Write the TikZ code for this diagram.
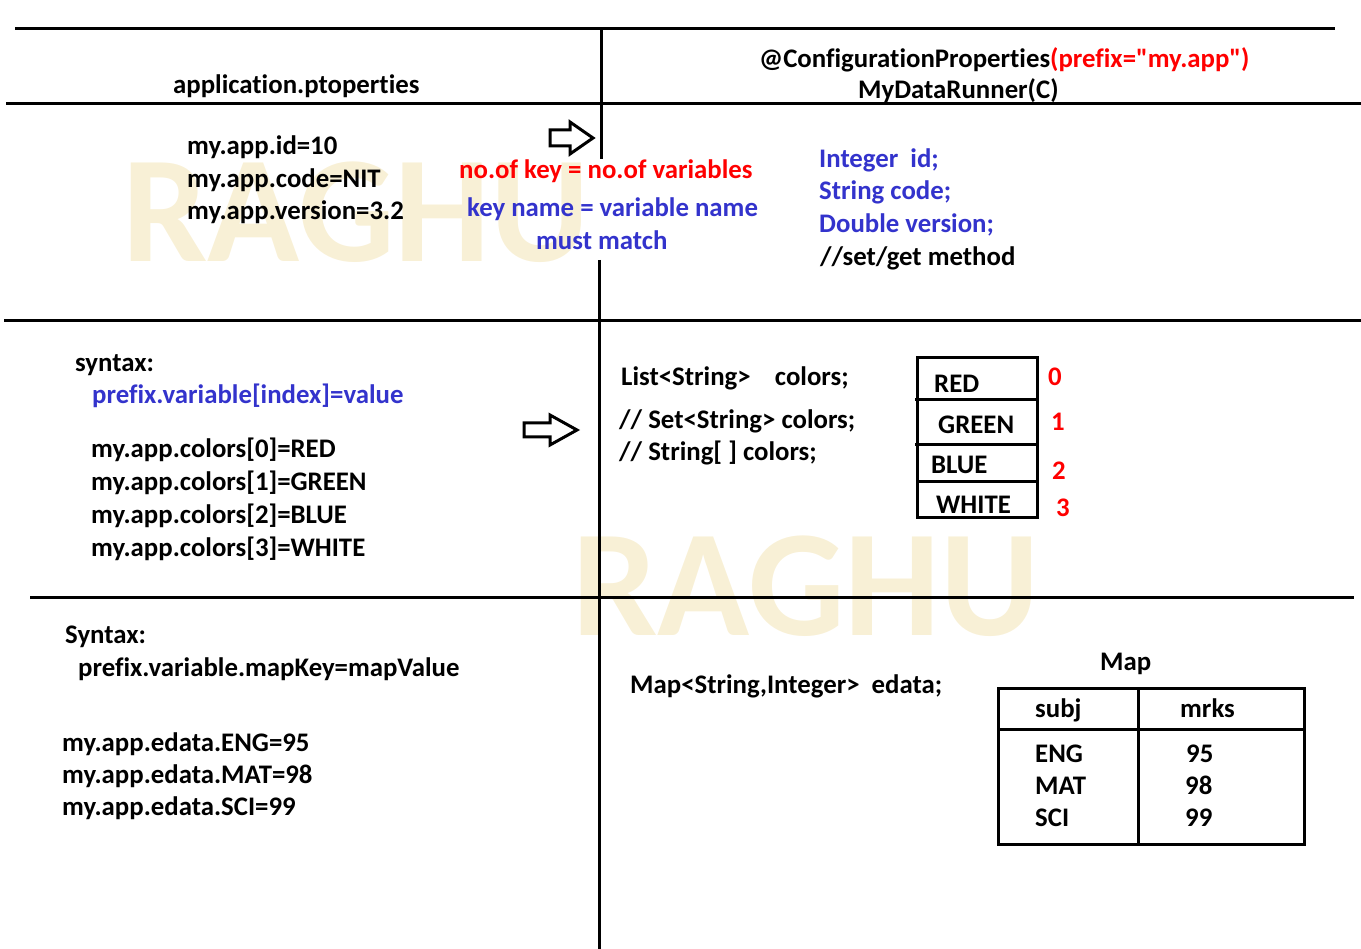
\documentclass[tikz,border=0pt]{standalone}
\usepackage{fontspec}
\setmainfont{Carlito}[Ligatures={TeXOff,NoCommon}]
\definecolor{wm}{RGB}{248,240,214}
\definecolor{tblue}{RGB}{51,51,204}
\definecolor{tred}{RGB}{255,0,0}
\tikzset{
  txt/.style={anchor=base west, inner sep=0pt, yshift=-2pt, font=\bfseries\fontsize{26.8}{32}\selectfont},
  bluetxt/.style={txt, text=tblue},
  redtxt/.style={txt, text=tred},
  wmark/.style={anchor=base west, inner sep=0pt, text=wm, font=\bfseries\fontsize{152}{160}\selectfont},
  gridline/.style={line width=3pt},
  boxline/.style={line width=3pt},
  blockarrow/.style={line width=3pt, fill=white, line join=miter}
}
\begin{document}
\begin{tikzpicture}[x=1pt,y=-1pt]
\useasboundingbox (0,0) rectangle (1361,949);
% watermarks
\node[wmark] (wm1) at (122,262) {RAGHU};
\node[wmark] (wm2) at (572,635) {RAGHU};
% grid lines
\draw[gridline] (15,29) -- (1335,29);
\draw[gridline] (6,104) -- (1361,104);
\draw[gridline] (601,28) -- (601,159);
\draw[gridline] (599,260) -- (599,949);
\draw[gridline] (4,321) -- (1361,321);
\draw[gridline] (30,597) -- (1354,597);
% block arrows
\draw[blockarrow] (550,130) -- (570,130) -- (570,122) -- (593,138) -- (570,154) -- (570,146) -- (550,146) -- cycle;
\draw[blockarrow] (524,423) -- (550,423) -- (550,415) -- (577,430) -- (550,445) -- (550,437) -- (524,437) -- cycle;
% header
\node[txt] (appprops) at (173,92) {application.ptoperties};
\node[txt] (confprops) at (759,66) {@ConfigurationProperties\textcolor{tred}{(prefix="my.app")}};
\node[txt] (runner) at (858,97) {MyDataRunner(C)};
% section 1
\node[txt] (p1) at (187,153) {my.app.id=10};
\node[txt] (p2) at (187,186) {my.app.code=NIT};
\node[txt] (p3) at (187,218) {my.app.version=3.2};
\node[redtxt] (rule1) at (459,177) {no.of key = no.of variables};
\node[bluetxt] (rule2) at (467,215) {key name = variable name};
\node[bluetxt] (rule3) at (536,248) {must match};
\node[bluetxt] (v1) at (819,166) {Integer\ \ id;};
\node[bluetxt] (v2) at (819,198) {String code;};
\node[bluetxt] (v3) at (819,231) {Double version;};
\node[txt] (v4) at (820,264) {//set/get method};
% section 2
\node[txt] (syn1) at (75,370) {syntax:};
\node[bluetxt] (syn1b) at (92,402) {prefix.variable[index]=value};
\node[txt] (c0) at (91,456) {my.app.colors[0]=RED};
\node[txt] (c1) at (91,489) {my.app.colors[1]=GREEN};
\node[txt] (c2) at (91,521) {my.app.colors[2]=BLUE};
\node[txt] (c3) at (91,554) {my.app.colors[3]=WHITE};
\node[txt] (l1) at (621,384) {List<String>\ \ \ \ colors;};
\node[txt] (l2) at (619,427) {// Set<String> colors;};
\node[txt] (l3) at (619,459) {// String[ ] colors;};
\draw[boxline] (917,358) rectangle (1037,518);
\draw[boxline] (915,400) -- (1037,400);
\draw[boxline] (915,445) -- (1039,445);
\draw[boxline] (917,482) -- (1039,482);
\node[txt] (bred) at (934,391) {RED};
\node[txt] (bgreen) at (938,432) {GREEN};
\node[txt] (bblue) at (931,472) {BLUE};
\node[txt] (bwhite) at (936,512) {WHITE};
\node[redtxt] (i0) at (1048,384) {0};
\node[redtxt] (i1) at (1051,429) {1};
\node[redtxt] (i2) at (1052,478) {2};
\node[redtxt] (i3) at (1056,515) {3};
% section 3
\node[txt] (syn2) at (65,641) {Syntax:};
\node[txt] (syn2b) at (78,674) {prefix.variable.mapKey=mapValue};
\node[txt] (e1) at (62,749) {my.app.edata.ENG=95};
\node[txt] (e2) at (62,781) {my.app.edata.MAT=98};
\node[txt] (e3) at (62,813) {my.app.edata.SCI=99};
\node[txt] (mapdecl) at (630,691) {Map<String,Integer>\ \ edata;};
\node[txt] (maptitle) at (1100,668) {Map};
\draw[boxline] (998,688) rectangle (1304,844);
\draw[boxline] (998,729) -- (1304,729);
\draw[boxline] (1138,688) -- (1138,844);
\node[txt] (hsubj) at (1035,715) {subj};
\node[txt] (hmrks) at (1180,715) {mrks};
\node[txt] (s1) at (1035,760) {ENG};
\node[txt] (s2) at (1035,792) {MAT};
\node[txt] (s3) at (1035,824) {SCI};
\node[txt] (m1) at (1186,760) {95};
\node[txt] (m2) at (1185,792) {98};
\node[txt] (m3) at (1185,824) {99};
\end{tikzpicture}
\end{document}
